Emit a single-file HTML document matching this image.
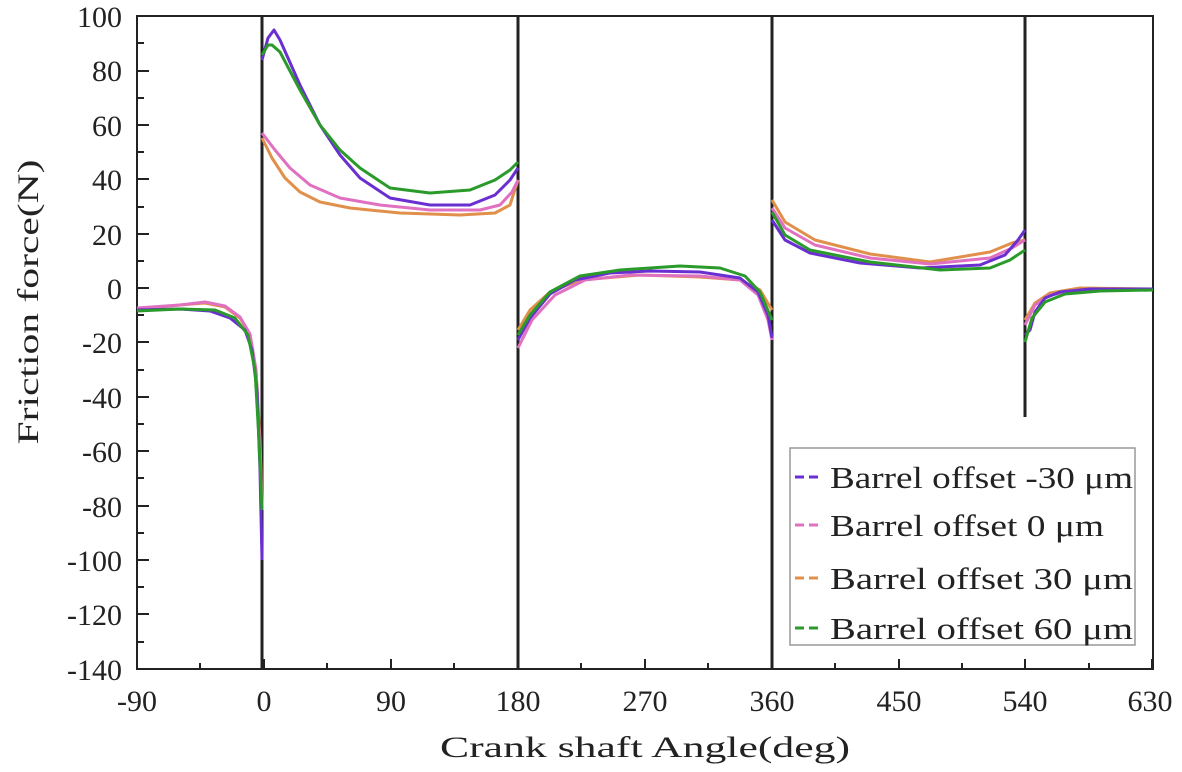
<!DOCTYPE html><html><head><meta charset="utf-8"><style>body{margin:0;background:#fff}svg{display:block}</style></head><body>
<svg width="1182" height="772" viewBox="0 0 1182 772" xmlns="http://www.w3.org/2000/svg" font-family="'Liberation Serif', 'DejaVu Serif', serif">
<g stroke="#222" stroke-width="2" fill="none">
<rect x="137" y="16" width="1016" height="653"/>
<line x1="262" y1="16" x2="262" y2="669" stroke-width="3"/>
<line x1="518" y1="16" x2="518" y2="669" stroke-width="3"/>
<line x1="772" y1="16" x2="772" y2="669" stroke-width="3"/>
<line x1="1025" y1="16" x2="1025" y2="417" stroke-width="3"/>
<path d="M137,16h12M137,43h7M137,71h12M137,98h7M137,125h12M137,152h7M137,179h12M137,207h7M137,234h12M137,261h7M137,288h12M137,315h7M137,342h12M137,370h7M137,397h12M137,424h7M137,451h12M137,478h7M137,506h12M137,533h7M137,560h12M137,587h7M137,614h12M137,642h7M137,669h12"/>
<path d="M137,669v-10M200,669v-6M264,669v-10M327,669v-6M391,669v-10M454,669v-6M518,669v-10M581,669v-6M645,669v-10M708,669v-6M772,669v-10M835,669v-6M899,669v-10M962,669v-6M1025,669v-10M1089,669v-6M1152,669v-10"/>
</g>
<g font-size="30" text-anchor="end" fill="#222">
<text x="122" y="27">100</text><text x="122" y="81">80</text><text x="122" y="136">60</text><text x="122" y="190">40</text><text x="122" y="245">20</text><text x="122" y="299">0</text><text x="122" y="353">-20</text><text x="122" y="408">-40</text><text x="122" y="462">-60</text><text x="122" y="517">-80</text><text x="122" y="571">-100</text><text x="122" y="625">-120</text><text x="122" y="680">-140</text>
</g>
<g font-size="30" text-anchor="middle" fill="#222">
<text x="137" y="711">-90</text><text x="264" y="711">0</text><text x="391" y="711">90</text><text x="518" y="711">180</text><text x="645" y="711">270</text><text x="772" y="711">360</text><text x="899" y="711">450</text><text x="1025" y="711">540</text><text x="1150" y="711">630</text>
<text x="645" y="757" textLength="410" lengthAdjust="spacingAndGlyphs">Crank shaft Angle(deg)</text>
<text transform="translate(38,302) rotate(-90)" textLength="285" lengthAdjust="spacingAndGlyphs">Friction force(N)</text>
</g>
<g fill="none" stroke-width="3" stroke-linejoin="round">
<g stroke="#e0904a">
<path d="M137,309 L180,305 L205,303 L225,307 L240,318 L250,335 L256,370 L260,440 L262,506"/>
<path d="M262,138 L272,158 L285,178 L300,192 L320,202 L350,208 L400,213 L460,215 L495,213 L510,205 L518,180"/>
<path d="M518,330 L530,310 L550,292 L580,280 L640,275 L700,277 L740,280 L760,290 L772,310"/>
<path d="M772,200 L785,222 L815,240 L870,254 L930,262 L990,252 L1012,243 L1025,240"/>
<path d="M1025,320 L1035,303 L1050,293 L1080,288 L1153,289"/>
</g>
<g stroke="#e070c0">
<path d="M137,308 L180,305 L205,302 L225,306 L240,317 L250,334 L256,370 L260,450 L262,510"/>
<path d="M262,133 L275,150 L290,168 L310,185 L340,198 L380,205 L430,210 L480,210 L500,205 L512,192 L518,180"/>
<path d="M518,348 L532,320 L555,295 L585,280 L630,275 L700,276 L740,280 L758,295 L768,320 L772,340"/>
<path d="M772,208 L785,228 L815,245 L870,258 L930,264 L990,258 L1012,248 L1025,240"/>
<path d="M1025,325 L1035,305 L1050,295 L1080,290 L1153,289"/>
</g>
<g stroke="#6a2fd0">
<path d="M137,310 L180,309 L210,311 L230,318 L245,330 L252,350 L257,390 L260,470 L262,560"/>
<path d="M262,60 L268,38 L274,30 L280,40 L300,85 L320,125 L340,155 L360,178 L390,198 L430,205 L470,205 L495,195 L510,180 L518,168"/>
<path d="M518,340 L530,318 L550,294 L575,280 L610,273 L650,271 L700,272 L740,278 L758,292 L768,315 L772,338"/>
<path d="M772,220 L785,240 L810,253 L860,263 L920,268 L980,265 L1005,255 L1018,240 L1025,230"/>
<path d="M1025,335 L1030,330 L1035,312 L1045,298 L1060,292 L1090,289 L1153,289"/>
</g>
<g stroke="#2a9a2a">
<path d="M137,311 L180,309 L215,310 L235,318 L248,335 L255,370 L259,440 L262,510"/>
<path d="M262,55 L268,45 L272,45 L280,52 L300,90 L320,125 L340,150 L360,168 L390,188 L430,193 L470,190 L495,180 L510,170 L518,162"/>
<path d="M518,335 L530,315 L550,292 L580,276 L620,270 L680,266 L720,268 L745,276 L760,292 L772,320"/>
<path d="M772,212 L785,235 L810,250 L870,262 L940,270 L990,268 L1010,260 L1025,250"/>
<path d="M1025,342 L1032,318 L1045,302 L1065,294 L1100,291 L1153,290"/>
</g>
</g>
<rect x="790" y="448" width="345" height="197" fill="#fff" stroke="#999" stroke-width="1.5"/>
<g stroke-width="3" stroke-dasharray="9,5">
<line x1="795" y1="477" x2="822" y2="477" stroke="#6a2fd0"/>
<line x1="795" y1="525" x2="822" y2="525" stroke="#e070c0"/>
<line x1="795" y1="578" x2="822" y2="578" stroke="#e0904a"/>
<line x1="795" y1="628" x2="822" y2="628" stroke="#2a9a2a"/>
</g>
<g font-size="31" fill="#222">
<text x="830" y="488" textLength="303" lengthAdjust="spacingAndGlyphs">Barrel offset -30 μm</text>
<text x="830" y="536" textLength="274" lengthAdjust="spacingAndGlyphs">Barrel offset 0 μm</text>
<text x="830" y="589" textLength="303" lengthAdjust="spacingAndGlyphs">Barrel offset 30 μm</text>
<text x="830" y="639" textLength="303" lengthAdjust="spacingAndGlyphs">Barrel offset 60 μm</text>
</g>
</svg></body></html>
